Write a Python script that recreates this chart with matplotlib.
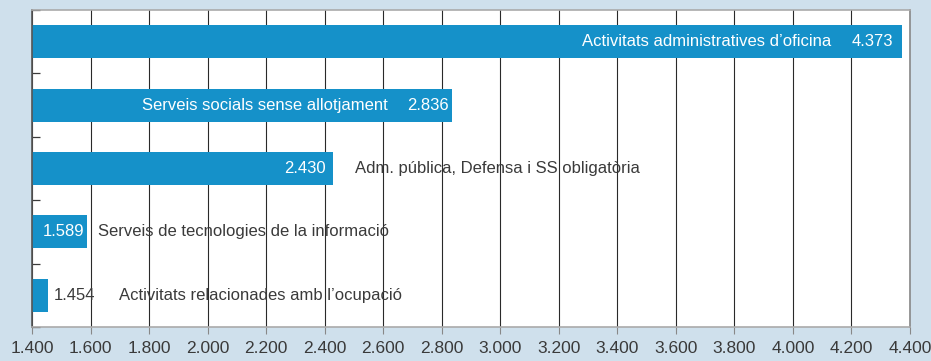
import matplotlib
matplotlib.use("Agg")
import matplotlib.pyplot as plt
from matplotlib.ticker import FuncFormatter

plt.rcParams["font.family"] = ["Liberation Sans", "DejaVu Sans"]

BG = "#cfe0ec"; BLUE = "#1591c9"; INK = "#3a3a3a"

# dades
sectors = ["Activitats administratives d\u2019oficina",
           "Serveis socials sense allotjament",
           "Adm. pública, Defensa i SS obligatòria",
           "Serveis de tecnologies de la informació",
           "Activitats relacionades amb l\u2019ocupació"]
valors = [4373, 2836, 2430, 1589, 1454]

# col·locació de les etiquetes (px respecte a l'extrem de la barra)
# (desplaçament valor, ha valor, desplaçament text, ha text, text dins?)
LAY = [(-9, "right", -71, "right", True),
       (-4, "right", -65, "right", True),
       (-8, "right", 22, "left", False),
       (-3, "right", 11, "left", False),
       (6, "left", 71, "left", False)]

def fmt(v):
    return f"{v:,.0f}".replace(",", ".")

fig = plt.figure(figsize=(9.31, 3.61), dpi=100)
fig.patch.set_facecolor(BG)
ax = fig.add_axes([32/931, 1-327/361, (910-32)/931, (327-10)/361])
ax.set_facecolor("white")

ypos = list(range(len(valors)))
ax.set_xlim(1400, 4400)
ax.set_ylim(len(valors)-0.5, -0.5)
ax.set_xticks(range(1400, 4401, 200))
ax.xaxis.set_major_formatter(FuncFormatter(lambda v, p: fmt(v)))
ax.grid(axis="x", color="#2a2a2a", linewidth=0.8, zorder=0)
ax.set_axisbelow(True)

ax.barh(ypos, [v-1400 for v in valors], left=1400, height=0.52, color=BLUE, zorder=2)

for y, v, name, (dv, hv, dt, ht, tin) in zip(ypos, valors, sectors, LAY):
    vin = hv == "right"
    ax.annotate(fmt(v), (v, y), xytext=(dv, 0), textcoords="offset pixels",
                ha=hv, va="center", color="white" if vin else INK, fontsize=12, zorder=3)
    ax.annotate(name, (v, y), xytext=(dt, 0), textcoords="offset pixels",
                ha=ht, va="center", color="white" if tin else INK, fontsize=12, zorder=3)

ax.set_yticks([i-0.5 for i in range(len(valors)+1)])
ax.set_yticklabels([])
ax.tick_params(axis="y", direction="in", length=6, color=INK, width=0.9)
ax.tick_params(axis="x", direction="out", length=5, color="#888888",
               labelsize=12.5, labelcolor=INK, pad=5)

for s in ("top", "bottom"):
    ax.spines[s].set_color("#aaaaaa"); ax.spines[s].set_linewidth(1.2)
ax.spines["left"].set_color("#555555"); ax.spines["left"].set_linewidth(1.2)
ax.spines["right"].set_color("#888888"); ax.spines["right"].set_linewidth(1.2)

fig.savefig("out.png", dpi=100, facecolor=BG)
